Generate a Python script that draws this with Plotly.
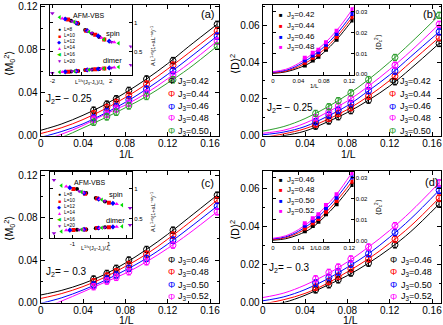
import plotly.graph_objects as go

W, H = 443, 325
FONT = "Liberation Sans, Arial, sans-serif"

# 1/L for L = 20, 16, 14, 12, 10, 8, 6
inv_L = [0.05, 0.0625, 0.0714, 0.0833, 0.1, 0.125, 0.1667]
fit_grid = [0, 0.02, 0.04, 0.06, 0.08, 0.10, 0.12, 0.14, 0.1667]

# (a) <M0^2>, J2 = -0.25
j3_a = ["0.42", "0.44", "0.46", "0.48", "0.50"]
m2_a = [
    [0.0237, 0.0293, 0.0343, 0.0421, 0.0527, 0.0698, 0.1035],
    [0.0203, 0.0262, 0.0309, 0.0374, 0.0480, 0.0655, 0.0973],
    [0.0165, 0.0224, 0.0271, 0.0334, 0.0433, 0.0605, 0.0926],
    [0.0153, 0.0199, 0.0249, 0.0302, 0.0396, 0.0564, 0.0879],
    [0.0125, 0.0175, 0.0218, 0.0277, 0.0365, 0.0520, 0.0832],
]
fit_a = [
    [0.0050, 0.0110, 0.0190, 0.0285, 0.0400, 0.0527, 0.0670, 0.0830, 0.1035],
    [0.0020, 0.0075, 0.0150, 0.0245, 0.0355, 0.0480, 0.0620, 0.0770, 0.0973],
    [-0.0015, 0.0040, 0.0110, 0.0205, 0.0310, 0.0433, 0.0570, 0.0720, 0.0926],
    [-0.0050, 0.0015, 0.0095, 0.0195, 0.0285, 0.0396, 0.0530, 0.0670, 0.0879],
    [-0.0080, -0.0015, 0.0072, 0.0162, 0.0260, 0.0365, 0.0490, 0.0625, 0.0832],
]

# (b) <D>^2, J2 = -0.25
d2_b = [
    [0.0052, 0.0080, 0.0103, 0.0136, 0.0193, 0.0293, 0.0501],
    [0.0063, 0.0094, 0.0121, 0.0152, 0.0215, 0.0323, 0.0533],
    [0.0076, 0.0112, 0.0139, 0.0175, 0.0244, 0.0351, 0.0564],
    [0.0098, 0.0130, 0.0161, 0.0201, 0.0269, 0.0383, 0.0605],
    [0.0121, 0.0157, 0.0190, 0.0233, 0.0305, 0.0425, 0.0654],
]
fit_b = [
    [-0.0020, 0.0000, 0.0025, 0.0072, 0.0126, 0.0193, 0.0270, 0.0365, 0.0501],
    [-0.0010, 0.0010, 0.0038, 0.0085, 0.0142, 0.0215, 0.0300, 0.0400, 0.0533],
    [0.0005, 0.0020, 0.0050, 0.0102, 0.0163, 0.0244, 0.0330, 0.0430, 0.0564],
    [0.0013, 0.0030, 0.0068, 0.0124, 0.0188, 0.0269, 0.0360, 0.0460, 0.0605],
    [0.0025, 0.0050, 0.0093, 0.0152, 0.0222, 0.0305, 0.0400, 0.0505, 0.0654],
]

# (c) <M0^2>, J2 = -0.3
j3_c = ["0.46", "0.48", "0.50", "0.52"]
m2_c = [
    [0.0221, 0.0274, 0.0322, 0.0400, 0.0500, 0.0682, 0.1012],
    [0.0196, 0.0249, 0.0290, 0.0359, 0.0456, 0.0635, 0.0965],
    [0.0165, 0.0221, 0.0259, 0.0322, 0.0416, 0.0588, 0.0908],
    [0.0149, 0.0202, 0.0237, 0.0290, 0.0384, 0.0541, 0.0855],
]
fit_c = [
    [0.0071, 0.0115, 0.0178, 0.0262, 0.0372, 0.0500, 0.0643, 0.0800, 0.1012],
    [0.0038, 0.0085, 0.0150, 0.0235, 0.0340, 0.0456, 0.0597, 0.0750, 0.0965],
    [-0.0008, 0.0045, 0.0118, 0.0205, 0.0305, 0.0416, 0.0550, 0.0700, 0.0908],
    [-0.0060, 0.0015, 0.0100, 0.0188, 0.0275, 0.0384, 0.0510, 0.0650, 0.0855],
]

# (d) <D>^2, J2 = -0.3
d2_d = [
    [0.0067, 0.0094, 0.0120, 0.0156, 0.0208, 0.0305, 0.0520],
    [0.0081, 0.0111, 0.0138, 0.0178, 0.0231, 0.0335, 0.0552],
    [0.0103, 0.0132, 0.0161, 0.0203, 0.0258, 0.0370, 0.0593],
    [0.0125, 0.0159, 0.0187, 0.0230, 0.0293, 0.0406, 0.0632],
]
fit_d = [
    [-0.0020, 0.0000, 0.0038, 0.0088, 0.0142, 0.0208, 0.0285, 0.0375, 0.0520],
    [-0.0008, 0.0015, 0.0048, 0.0098, 0.0162, 0.0231, 0.0313, 0.0405, 0.0552],
    [0.0009, 0.0030, 0.0068, 0.0121, 0.0186, 0.0258, 0.0345, 0.0443, 0.0593],
    [0.0026, 0.0050, 0.0092, 0.0147, 0.0214, 0.0293, 0.0381, 0.0481, 0.0632],
]

# insets of (a)/(c): data collapse, spin and dimer branches
L_labels = ["L=8", "L=10", "L=12", "L=14", "L=16", "L=20"]
scal_x_a = [
    [-0.72, -0.23, 0.25, 0.73, 1.22],
    [-0.92, -0.30, 0.32, 0.94, 1.56],
    [-1.12, -0.36, 0.39, 1.14, 1.90],
    [-1.32, -0.43, 0.46, 1.35, 2.24],
    [-1.50, -0.49, 0.52, 1.53, 2.54],
    [-2.00, -0.65, 0.70, 2.04, 3.39],
]
spin_a = [
    [1.03, 0.98, 0.87, 0.81, 0.75],
    [1.05, 0.99, 0.86, 0.79, 0.71],
    [1.06, 0.99, 0.86, 0.77, 0.68],
    [1.07, 1.00, 0.85, 0.74, 0.66],
    [1.09, 1.01, 0.84, 0.71, 0.645],
    [1.16, 1.02, 0.82, 0.665, 0.59],
]
dimer_a = [
    [0.160, 0.170, 0.185, 0.195, 0.205],
    [0.157, 0.170, 0.186, 0.200, 0.212],
    [0.155, 0.168, 0.187, 0.203, 0.222],
    [0.153, 0.167, 0.188, 0.207, 0.230],
    [0.150, 0.166, 0.190, 0.210, 0.238],
    [0.135, 0.163, 0.193, 0.225, 0.270],
]
scal_x_c = [
    [-0.75, -0.24, 0.29, 0.80],
    [-0.95, -0.30, 0.37, 1.02],
    [-1.15, -0.36, 0.45, 1.24],
    [-1.35, -0.42, 0.52, 1.45],
    [-1.62, -0.50, 0.62, 1.75],
    [-2.03, -0.63, 0.78, 2.19],
]
spin_c = [
    [1.00, 0.93, 0.85, 0.79],
    [1.00, 0.92, 0.84, 0.77],
    [1.02, 0.93, 0.83, 0.76],
    [1.04, 0.94, 0.83, 0.75],
    [1.055, 0.95, 0.82, 0.73],
    [1.15, 0.96, 0.80, 0.68],
]
dimer_c = [
    [0.318, 0.325, 0.345, 0.360],
    [0.315, 0.325, 0.347, 0.362],
    [0.312, 0.324, 0.348, 0.366],
    [0.310, 0.324, 0.350, 0.370],
    [0.290, 0.322, 0.352, 0.375],
    [0.260, 0.320, 0.356, 0.400],
]

# insets of (b)/(d): <Dc^2> vs 1/L (L = 20 ... 8)
inv_L_in = [0.05, 0.0625, 0.0714, 0.0833, 0.1, 0.125]
fit_grid_in = [0, 0.02, 0.04, 0.06, 0.08, 0.10, 0.12, 0.13]
j3_b_in = ["0.42", "0.44", "0.46", "0.48"]
dc2_b = [
    [0.0043, 0.0066, 0.0084, 0.0118, 0.0166, 0.0257],
    [0.0055, 0.0079, 0.0095, 0.0129, 0.0179, 0.0273],
    [0.0066, 0.0090, 0.0106, 0.0142, 0.0193, 0.0289],
    [0.0079, 0.0103, 0.0118, 0.0153, 0.0209, 0.0311],
]
fit_b_in = [
    [0.0005, 0.0012, 0.0030, 0.0058, 0.0105, 0.0166, 0.0240, 0.0280],
    [0.0007, 0.0015, 0.0037, 0.0070, 0.0118, 0.0179, 0.0255, 0.0295],
    [0.0010, 0.0019, 0.0044, 0.0082, 0.0131, 0.0193, 0.0270, 0.0312],
    [0.0013, 0.0024, 0.0052, 0.0094, 0.0145, 0.0209, 0.0290, 0.0335],
]
j3_d_in = ["0.46", "0.48", "0.50", "0.52"]
dc2_d = [
    [0.0047, 0.0071, 0.0091, 0.0127, 0.0174, 0.0265],
    [0.0060, 0.0084, 0.0104, 0.0139, 0.0190, 0.0281],
    [0.0073, 0.0096, 0.0115, 0.0155, 0.0205, 0.0300],
    [0.0084, 0.0108, 0.0127, 0.0171, 0.0221, 0.0321],
]
fit_d_in = [
    [0.0004, 0.0011, 0.0030, 0.0060, 0.0112, 0.0174, 0.0248, 0.0290],
    [0.0007, 0.0016, 0.0039, 0.0073, 0.0125, 0.0190, 0.0265, 0.0310],
    [0.0010, 0.0020, 0.0046, 0.0085, 0.0140, 0.0205, 0.0284, 0.0330],
    [0.0013, 0.0025, 0.0054, 0.0097, 0.0155, 0.0221, 0.0305, 0.0350],
]

colors5 = ["black", "#ff0000", "#0000ff", "#ff00ff", "#2e9e2e"]
colors4 = ["black", "#ff0000", "#0000ff", "#ff00ff"]
L_colors = ["black", "#ff0000", "#0000ff", "#ff00ff", "#00dd00", "#9400d3"]
L_symbols = ["circle", "square", "diamond", "triangle-up", "triangle-left", "triangle-down"]
L_keys = ["●", "■", "◆", "▲", "◀", "▼"]


def px(x):
    return x / W


def py(y):
    return 1 - y / H


fig = go.Figure()


def main_panel(n, ys, fits, colors, err):
    xa, ya = "x%d" % n, "y%d" % n
    for fy, c in zip(fits, colors):
        fig.add_trace(go.Scatter(x=fit_grid, y=fy, mode="lines", xaxis=xa, yaxis=ya,
                                 line=dict(color=c, width=1, shape="spline"),
                                 showlegend=False, hoverinfo="skip"))
    for y, c in zip(ys, colors):
        fig.add_trace(go.Scatter(x=inv_L, y=y, mode="markers", xaxis=xa, yaxis=ya,
                                 marker=dict(symbol="circle-open", size=6, color=c,
                                             line=dict(width=1, color=c)),
                                 error_y=dict(type="constant", value=err, color=c,
                                              thickness=1, width=2),
                                 showlegend=False))


def collapse_inset(n, xs, spin, dimer):
    xa, ya = "x%d" % n, "y%d" % n
    for i in range(len(L_labels)):
        for yv in (spin[i], dimer[i]):
            fig.add_trace(go.Scatter(x=xs[i], y=yv, mode="markers", xaxis=xa, yaxis=ya,
                                     marker=dict(symbol=L_symbols[i], size=4,
                                                 color=L_colors[i]),
                                     showlegend=False))


def dc_inset(n, ys, fits, colors):
    xa, ya = "x%d" % n, "y%d" % n
    for fy, c in zip(fits, colors):
        fig.add_trace(go.Scatter(x=fit_grid_in, y=fy, mode="lines", xaxis=xa, yaxis=ya,
                                 line=dict(color=c, width=1, shape="spline"),
                                 showlegend=False, hoverinfo="skip"))
    for y, c in zip(ys, colors):
        fig.add_trace(go.Scatter(x=inv_L_in, y=y, mode="markers", xaxis=xa, yaxis=ya,
                                 marker=dict(symbol="square", size=4, color=c),
                                 showlegend=False))


main_panel(1, m2_a, fit_a, colors5, 0.0030)
main_panel(2, d2_b, fit_b, colors5, 0.0017)
main_panel(3, m2_c, fit_c, colors4, 0.0030)
main_panel(4, d2_d, fit_d, colors4, 0.0017)
collapse_inset(5, scal_x_a, spin_a, dimer_a)
dc_inset(6, dc2_b, fit_b_in, colors4)
collapse_inset(7, scal_x_c, spin_c, dimer_c)
dc_inset(8, dc2_d, fit_d_in, colors4)


def axis(domain, rng, anchor, size=10, **kw):
    d = dict(domain=domain, range=rng, anchor=anchor, showline=True, linecolor="black",
             linewidth=1, mirror="ticks", ticks="inside", ticklen=4, tickcolor="black",
             showgrid=False, zeroline=False, automargin=False,
             tickfont=dict(family=FONT, size=size, color="black"))
    d.update(kw)
    return d


minor_tk = dict(ticks="inside", ticklen=2, tickcolor="black")
xt_main = ["0", "0.04", "0.08", "0.12", "0.16"]
xv_main = [0, 0.04, 0.08, 0.12, 0.16]
xt_in = ["0", "0.04", "0.08", "0.12"]
xv_in = [0, 0.04, 0.08, 0.12]

dom_x_left = [px(40.7), px(219)]
dom_x_right = [px(262.7), px(441)]
dom_y_top = [py(135.7), py(5)]
dom_y_bot = [py(302.5), py(171)]


def main_x(dom, anchor):
    return axis(dom, [0, 0.1685], anchor, tickvals=xv_main, ticktext=xt_main,
                tickangle=0, ticklabelstandoff=-2, minor=dict(dtick=0.02, **minor_tk))


fig.update_layout(
    xaxis=main_x(dom_x_left, "y"),
    yaxis=axis(dom_y_top, [0, 0.1215], "x", dtick=0.04, tickformat=".2f",
               minor=dict(dtick=0.02, **minor_tk)),
    xaxis2=main_x(dom_x_right, "y2"),
    yaxis2=axis(dom_y_top, [0, 0.071], "x2", dtick=0.02, tickformat=".2f",
                minor=dict(dtick=0.01, **minor_tk)),
    xaxis3=main_x(dom_x_left, "y3"),
    yaxis3=axis(dom_y_bot, [0, 0.124], "x3", dtick=0.04, tickformat=".2f",
                minor=dict(dtick=0.02, **minor_tk)),
    xaxis4=main_x(dom_x_right, "y4"),
    yaxis4=axis(dom_y_bot, [0, 0.0695], "x4", dtick=0.02, tickformat=".2f",
                minor=dict(dtick=0.01, **minor_tk)),
    xaxis5=axis([px(50), px(131.7)], [-2.16, 3.44], "y5", size=6, ticklen=3,
                tickangle=0, tickvals=[-2, 0, 2], ticktext=["-2", "", "2"]),
    yaxis5=axis([py(75), py(5)], [0.1, 1.3], "x5", size=6, ticklen=3, side="right",
                tickvals=[0.5, 1], ticktext=["0.5", "1"]),
    xaxis6=axis([px(273), px(353.5)], [0, 0.1266], "y6", size=6, ticklen=3,
                tickangle=0, tickvals=xv_in, ticktext=xt_in),
    yaxis6=axis([py(75), py(4.7)], [-0.0003, 0.0333], "x6", size=6, ticklen=3,
                side="right", dtick=0.01, tickformat=".2f"),
    xaxis7=axis([px(50), px(132)], [-2.25, 2.3], "y7", size=6, ticklen=3,
                tickangle=0, tickvals=[-2, -1, 0, 1, 2], ticktext=["", "-1", "", "1", ""]),
    yaxis7=axis([py(237.5), py(171.5)], [0.19, 1.29], "x7", size=6, ticklen=3,
                side="right", tickvals=[0.5, 1], ticktext=["0.5", "1"]),
    xaxis8=axis([px(273), px(353.5)], [0, 0.1266], "y8", size=6, ticklen=3,
                tickangle=0, tickvals=xv_in, ticktext=xt_in),
    yaxis8=axis([py(241.7), py(171.7)], [-0.0003, 0.0328], "x8", size=6, ticklen=3,
                side="right", dtick=0.01, tickformat=".2f"),
)

ann = []


def text(x, y, s, size, anchor="left", color="black", angle=0):
    ann.append(dict(x=px(x), y=py(y), xref="paper", yref="paper", text=s,
                    showarrow=False, xanchor=anchor, yanchor="middle", textangle=angle,
                    borderpad=0, font=dict(family=FONT, size=size, color=color)))


# main legends
rows_top = [81, 94.3, 106.7, 118.3, 131]
rows_bot = [260, 272.3, 285, 296.7]
for kx, tx, rows, labels, cols in [(171, 176.5, rows_top, j3_a, colors5),
                                   (392.7, 398.5, rows_top, j3_a, colors5),
                                   (171, 176.5, rows_bot, j3_c, colors4),
                                   (393.7, 399.5, rows_bot, j3_c, colors4)]:
    for r, lab, c in zip(rows, labels, cols):
        text(kx, r, "Φ", 9, anchor="center", color=c)
        text(tx, r, "J<sub>3</sub>=" + lab, 9)

# inset legends (L)
for rows in ([29.3, 35.7, 41.7, 47.7, 54.3, 61], [194, 200.7, 206.7, 212.7, 219, 225.7]):
    for r, lab, key, c in zip(rows, L_labels, L_keys, L_colors):
        text(59.3, r, key, 5, anchor="center", color=c)
        text(62.5, r, lab, 4.8)

# inset legends (J3)
for rows, labels in (([15, 26.3, 37, 46.5], j3_b_in), ([180, 190.3, 200.5, 210.5], j3_d_in)):
    for r, lab, c in zip(rows, labels, colors4):
        text(281.3, r, "■", 6, anchor="center", color=c)
        text(286.3, r, "J<sub>3</sub>=" + lab, 8)

# panel labels and titles
text(207.5, 14, "(a)", 11, anchor="center")
text(429.5, 14, "(b)", 11, anchor="center")
text(207.5, 182.7, "(c)", 11, anchor="center")
text(431, 181.7, "(d)", 11, anchor="center")
text(45, 99, "J<sub>2</sub>= − 0.25", 10)
text(266, 108, "J<sub>2</sub>= − 0.25", 10)
text(45, 271.7, "J<sub>2</sub>= − 0.3", 10)
text(267.7, 268, "J<sub>2</sub>= − 0.3", 10)
for x, y in ((126.7, 154), (348.7, 154), (126.7, 319.5), (350.3, 319.5)):
    text(x, y, "1/L", 10.5, anchor="center")
text(9.5, 63, "⟨M<sub>0</sub><sup>2</sup>⟩", 10.5, anchor="center", angle=-90)
text(9.5, 228, "⟨M<sub>0</sub><sup>2</sup>⟩", 10.5, anchor="center", angle=-90)
text(233.7, 64, "⟨D⟩<sup>2</sup>", 10.5, anchor="center", angle=-90)
text(233.7, 230, "⟨D⟩<sup>2</sup>", 10.5, anchor="center", angle=-90)

# inset texts
text(88, 16, "AFM-VBS", 7, anchor="center")
text(89, 182, "AFM-VBS", 7, anchor="center")
text(113, 33, "spin", 7.5, anchor="center")
text(116, 194.5, "spin", 7.5, anchor="center")
text(113, 60, "dimer", 7.5, anchor="center")
text(115, 220, "dimer", 7.5, anchor="center")
text(90, 82, "L<sup>1/ν</sup>(J<sub>3</sub>-J<sub>c</sub>)/J<sub>c</sub>", 5.5, anchor="center")
text(96, 248, "L<sup>1/ν</sup>(J<sub>3</sub>-J<sub>c</sub>)/J<sub>c</sub>", 5.5, anchor="center")
lab_A = "A L<sup>1+η</sup>(1+aL<sup>−ω</sup>)<sup>−1</sup>"
text(153, 46, lab_A, 5.5, anchor="center", angle=-90)
text(153, 212, lab_A, 5.5, anchor="center", angle=-90)
text(378, 42, "⟨D<sub>c</sub><sup>2</sup>⟩", 6.5, anchor="center", angle=-90)
text(378, 207, "⟨D<sub>c</sub><sup>2</sup>⟩", 6.5, anchor="center", angle=-90)
text(314.5, 86, "1/L", 6, anchor="center")
text(314, 248, "1/L", 6, anchor="center")

fig.update_layout(
    width=W, height=H, margin=dict(l=0, r=0, t=0, b=0),
    paper_bgcolor="white", plot_bgcolor="white", showlegend=False,
    annotations=ann, font=dict(family=FONT, color="black"),
)

# the page body keeps its default 8px margin otherwise
fig.write_html("out.html", config={"displayModeBar": False},
               post_script="document.body.style.margin = '0';")
